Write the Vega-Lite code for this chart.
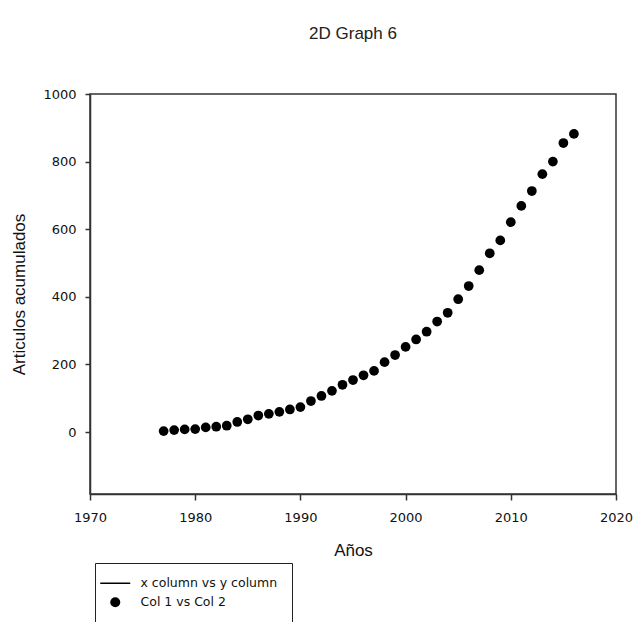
{
  "$schema": "https://vega.github.io/schema/vega-lite/v6.json",
  "width": 526,
  "height": 400,
  "autosize": {"type": "none"},
  "padding": {"left": 90, "top": 94, "right": 17, "bottom": 128},
  "background": "white",
  "title": {"text": "2D Graph 6", "fontSize": 17, "font": "Liberation Sans", "fontWeight": "normal", "color": "#222", "offset": 45, "anchor": "middle"},
  "data": {"values": [
    {"year": 1977, "value": 3, "series": "Col 1 vs Col 2"},
    {"year": 1978, "value": 6, "series": "Col 1 vs Col 2"},
    {"year": 1979, "value": 8, "series": "Col 1 vs Col 2"},
    {"year": 1980, "value": 9, "series": "Col 1 vs Col 2"},
    {"year": 1981, "value": 14, "series": "Col 1 vs Col 2"},
    {"year": 1982, "value": 16, "series": "Col 1 vs Col 2"},
    {"year": 1983, "value": 19, "series": "Col 1 vs Col 2"},
    {"year": 1984, "value": 30, "series": "Col 1 vs Col 2"},
    {"year": 1985, "value": 38, "series": "Col 1 vs Col 2"},
    {"year": 1986, "value": 49, "series": "Col 1 vs Col 2"},
    {"year": 1987, "value": 54, "series": "Col 1 vs Col 2"},
    {"year": 1988, "value": 60, "series": "Col 1 vs Col 2"},
    {"year": 1989, "value": 67, "series": "Col 1 vs Col 2"},
    {"year": 1990, "value": 74, "series": "Col 1 vs Col 2"},
    {"year": 1991, "value": 92, "series": "Col 1 vs Col 2"},
    {"year": 1992, "value": 107, "series": "Col 1 vs Col 2"},
    {"year": 1993, "value": 122, "series": "Col 1 vs Col 2"},
    {"year": 1994, "value": 140, "series": "Col 1 vs Col 2"},
    {"year": 1995, "value": 154, "series": "Col 1 vs Col 2"},
    {"year": 1996, "value": 168, "series": "Col 1 vs Col 2"},
    {"year": 1997, "value": 181, "series": "Col 1 vs Col 2"},
    {"year": 1998, "value": 207, "series": "Col 1 vs Col 2"},
    {"year": 1999, "value": 228, "series": "Col 1 vs Col 2"},
    {"year": 2000, "value": 252, "series": "Col 1 vs Col 2"},
    {"year": 2001, "value": 274, "series": "Col 1 vs Col 2"},
    {"year": 2002, "value": 297, "series": "Col 1 vs Col 2"},
    {"year": 2003, "value": 327, "series": "Col 1 vs Col 2"},
    {"year": 2004, "value": 353, "series": "Col 1 vs Col 2"},
    {"year": 2005, "value": 393, "series": "Col 1 vs Col 2"},
    {"year": 2006, "value": 432, "series": "Col 1 vs Col 2"},
    {"year": 2007, "value": 479, "series": "Col 1 vs Col 2"},
    {"year": 2008, "value": 529, "series": "Col 1 vs Col 2"},
    {"year": 2009, "value": 567, "series": "Col 1 vs Col 2"},
    {"year": 2010, "value": 621, "series": "Col 1 vs Col 2"},
    {"year": 2011, "value": 669, "series": "Col 1 vs Col 2"},
    {"year": 2012, "value": 713, "series": "Col 1 vs Col 2"},
    {"year": 2013, "value": 763, "series": "Col 1 vs Col 2"},
    {"year": 2014, "value": 800, "series": "Col 1 vs Col 2"},
    {"year": 2015, "value": 855, "series": "Col 1 vs Col 2"},
    {"year": 2016, "value": 882, "series": "Col 1 vs Col 2"}
  ]},
  "mark": {"type": "point", "filled": true, "size": 95, "color": "black", "opacity": 1},
  "encoding": {
    "x": {
      "field": "year", "type": "quantitative",
      "scale": {"domain": [1970, 2020], "nice": false, "zero": false},
      "axis": {"title": "Años", "values": [1970, 1980, 1990, 2000, 2010, 2020], "format": "d", "grid": false,
        "tickSize": 6, "labelPadding": 11, "titlePadding": 18, "labelFlush": false}
    },
    "y": {
      "field": "value", "type": "quantitative",
      "scale": {"domain": [-183, 1000], "nice": false, "zero": false},
      "axis": {"title": "Articulos acumulados", "values": [0, 200, 400, 600, 800, 1000], "format": "d", "grid": false,
        "tickSize": 5, "labelPadding": 9, "titlePadding": 14}
    },
    "shape": {
      "field": "series", "type": "nominal",
      "scale": {"domain": ["x column vs y column", "Col 1 vs Col 2"], "range": ["M-3,-0.15H3V0.15H-3Z", "circle"]},
      "legend": {
        "title": null, "orient": "none", "legendX": 5, "legendY": 469,
        "strokeColor": "#222", "fillColor": "white", "padding": 14, "cornerRadius": 0,
        "labelFont": "DejaVu Sans", "labelFontSize": 12.5, "labelColor": "#111", "labelOffset": 19,
        "symbolSize": 100, "symbolFillColor": "black",
        "rowPadding": 4
      }
    }
  },
  "config": {
    "view": {"stroke": "#333", "strokeWidth": 1.5},
    "axis": {
      "domainColor": "#333", "domainWidth": 1.5, "tickColor": "#333", "tickWidth": 1.5,
      "labelFont": "DejaVu Sans", "labelFontSize": 13, "labelColor": "#111",
      "titleFont": "Liberation Sans", "titleFontSize": 17, "titleFontWeight": "normal", "titleColor": "#111"
    }
  }
}
